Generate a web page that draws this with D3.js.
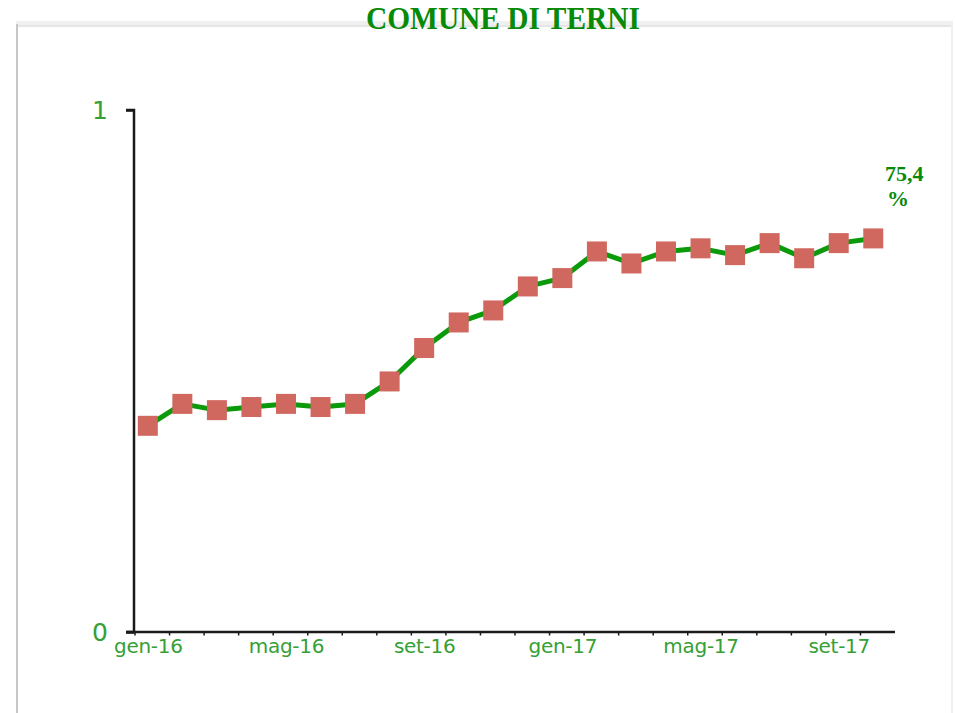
<!DOCTYPE html>
<html>
<head>
<meta charset="utf-8">
<script src="https://cdn.jsdelivr.net/npm/d3@7"></script>
<style>
  html, body { margin: 0; padding: 0; background: #ffffff; }
  svg { display: block; }
</style>
</head>
<body>
<svg id="chart" width="955" height="713"></svg>
<script>
// ---- data ----
const title = "COMUNE DI TERNI";
const months = ["gen-16","feb-16","mar-16","apr-16","mag-16","giu-16","lug-16","ago-16",
                "set-16","ott-16","nov-16","dic-16","gen-17","feb-17","mar-17","apr-17",
                "mag-17","giu-17","lug-17","ago-17","set-17","ott-17"];
const values = [0.395, 0.437, 0.425, 0.431, 0.437, 0.431, 0.437, 0.480,
                0.544, 0.593, 0.616, 0.662, 0.678, 0.729, 0.706, 0.729,
                0.735, 0.722, 0.745, 0.716, 0.745, 0.754];
const xTickLabels = ["gen-16","mag-16","set-16","gen-17","mag-17","set-17"];
const yTickValues = [0, 1];
const lastLabel = ["75,4", "%"];

// ---- drawing ----
const svg = d3.select("#chart");

// frame
svg.append("rect").attr("x", 16).attr("y", 21).attr("width", 937).attr("height", 6).attr("fill", "#f0f0f0");
svg.append("line").attr("x1", 16).attr("x2", 953).attr("y1", 26).attr("y2", 26).attr("stroke", "#e3e3e3").attr("stroke-width", 1.5);
svg.append("line").attr("x1", 17).attr("x2", 17).attr("y1", 24).attr("y2", 713).attr("stroke", "#c6c6c6").attr("stroke-width", 2);
svg.append("line").attr("x1", 952).attr("x2", 952).attr("y1", 24).attr("y2", 713).attr("stroke", "#f0f0f0").attr("stroke-width", 2);

// title
svg.append("text")
  .attr("x", 366).attr("y", 29)
  .attr("textLength", 274).attr("lengthAdjust", "spacingAndGlyphs")
  .attr("font-family", "'Liberation Serif', 'Times New Roman', serif")
  .attr("font-weight", "bold").attr("font-size", 31)
  .attr("fill", "#078a07")
  .text(title);

const xBand = d3.scaleBand().domain(months).range([135, 895]).padding(0);
const xPos = d => xBand(d) + 12.8;
const xPoint = d3.scalePoint().domain(months).range([xPos(months[0]), xPos(months[months.length - 1])]);
const y = d3.scaleLinear().domain([0, 1]).range([632, 110]);

// y axis
const yAxis = svg.append("g")
  .attr("transform", "translate(134,0)")
  .call(d3.axisLeft(y).tickValues(yTickValues).tickSize(8).tickPadding(18).tickFormat(d3.format("d")));
yAxis.select(".domain").attr("stroke", "#1a1a1a").attr("stroke-width", 2.5)
  .attr("d", `M-8,${y(1)}H0V${y(0)}H-8`);
yAxis.selectAll(".tick line").attr("stroke", "#1a1a1a").attr("stroke-width", 2.5);
yAxis.selectAll(".tick text")
  .attr("fill", "#35a035")
  .attr("font-family", "'DejaVu Sans', sans-serif")
  .attr("font-size", 25);

// x axis line + small ticks at band boundaries
svg.append("line")
  .attr("x1", 126).attr("x2", 895).attr("y1", y(0)).attr("y2", y(0))
  .attr("stroke", "#1a1a1a").attr("stroke-width", 2.5);
svg.append("g").selectAll("line").data(months).join("line")
  .attr("x1", d => xBand(d)).attr("x2", d => xBand(d))
  .attr("y1", y(0)).attr("y2", y(0) + 3.5)
  .attr("stroke", "#1a1a1a").attr("stroke-width", 1.5);

// x labels
const xAxis = svg.append("g")
  .attr("transform", `translate(0,${y(0)})`)
  .call(d3.axisBottom(xPoint).tickValues(xTickLabels).tickSize(0).tickPadding(7));
xAxis.select(".domain").remove();
xAxis.selectAll(".tick text")
  .attr("fill", "#35a035")
  .attr("font-family", "'DejaVu Sans', sans-serif")
  .attr("font-size", 20)
  .attr("letter-spacing", "-0.3px");

// line
const line = d3.line().x((d, i) => xPoint(months[i])).y(d => y(d));
svg.append("path")
  .datum(values)
  .attr("d", line)
  .attr("fill", "none")
  .attr("stroke", "#0a9a0a")
  .attr("stroke-width", 5)
  .attr("stroke-linejoin", "round");

// markers
const s = 20;
svg.append("g").selectAll("rect").data(values).join("rect")
  .attr("x", (d, i) => xPoint(months[i]) - s / 2)
  .attr("y", d => y(d) - s / 2)
  .attr("width", s).attr("height", s)
  .attr("fill", "#d06860");

// last value label
const lab = svg.append("text")
  .attr("font-family", "'Liberation Serif', 'Times New Roman', serif")
  .attr("font-weight", "bold").attr("font-size", 22)
  .attr("fill", "#078a07");
lab.append("tspan").attr("x", 885).attr("y", 181).text(lastLabel[0]);
lab.append("tspan").attr("x", 887).attr("y", 206).text(lastLabel[1]);
</script>
</body>
</html>
